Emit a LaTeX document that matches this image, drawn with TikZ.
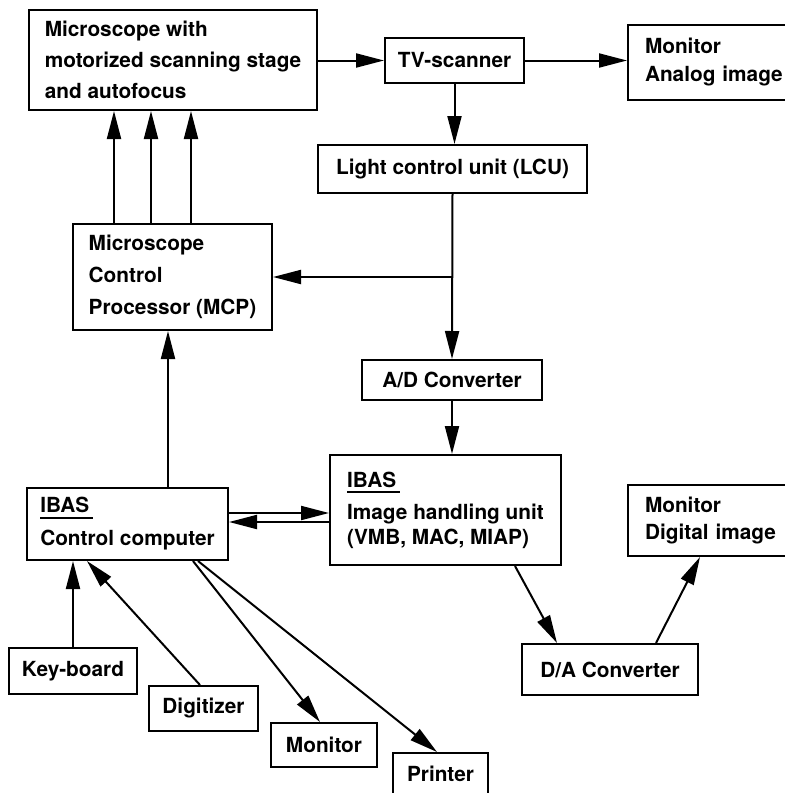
\documentclass[tikz,border=0pt]{standalone}
\usepackage{fontspec}
\setmainfont{TeX Gyre Heros}
\usetikzlibrary{arrows.meta}
\newcommand{\ibas}{\rlap{\rule[-3pt]{26.5pt}{0.9pt}}IBAS}

\begin{document}
\begin{tikzpicture}[x=0.5pt, y=-0.5pt,
    unit/.style={draw, line width=1pt, align=left, inner ysep=0pt,
      font=\fontsize{10.4}{15}\selectfont\bfseries},
    link/.style={line width=1pt, -{Triangle[length=14pt, width=7pt]}}]
  \useasboundingbox (0,0) rectangle (784,793);
  % top row
  \node[unit, minimum width=144pt, minimum height=50pt,
    font=\fontsize{10.4}{15.5}\selectfont\bfseries] (mic) at (173,60)
    {Microscope with\\motorized scanning stage\\and autofocus};
  \node[unit, minimum width=69.5pt, minimum height=22.5pt] (tv) at (454.5,60.5) {TV-scanner};
  \node[unit, text width=72pt, inner xsep=8.5pt, minimum height=37.5pt,
    font=\fontsize{10.4}{14}\selectfont\bfseries] (mona) at (717,62.5)
    {Monitor\\Analog image};
  \node[unit, minimum width=134.5pt, minimum height=24pt] (lcu) at (452.5,169) {Light control unit (LCU)};
  \node[unit, minimum width=99.5pt, minimum height=53pt,
    font=\fontsize{10.4}{16}\selectfont\bfseries] (mcp) at (172.5,277)
    {Microscope\\Control\\Processor (MCP)};
  \node[unit, minimum width=90pt, minimum height=20pt] (ad) at (452,380) {A/D Converter};
  % IBAS units
  \node[unit, minimum width=115.5pt, minimum height=55pt,
    font=\fontsize{10.4}{12.5}\selectfont\bfseries] (ibi) at (445.5,510)
    {\ibas\\[3.5pt]Image handling unit\\(VMB, MAC, MIAP)};
  \node[unit, minimum width=100.5pt, minimum height=36pt,
    font=\fontsize{10.4}{16.5}\selectfont\bfseries] (ibc) at (127.5,524)
    {\ibas\\Control computer};
  \node[unit, text width=72pt, inner xsep=8.5pt, minimum height=35.5pt,
    font=\fontsize{10.4}{13.5}\selectfont\bfseries] (monb) at (717,520.5)
    {Monitor\\Digital image};
  \node[unit, minimum width=88pt, minimum height=25.5pt] (da) at (610,669.5) {D/A Converter};
  % peripherals
  \node[unit, minimum width=64pt, minimum height=23pt] (kb) at (73,671) {Key-board};
  \node[unit, minimum width=54.5pt, minimum height=22.5pt] (dig) at (203.5,708.5) {Digitizer};
  \node[unit, minimum width=53pt, minimum height=22pt] (mon) at (324,745) {Monitor};
  \node[unit, minimum width=47.5pt, minimum height=21pt] (prn) at (440.5,774) {Printer};

  % signal path
  \draw[link] (mic.east |- tv) -- (tv.west);
  \draw[link] (tv.east) -- (tv.east -| mona.west);
  \draw[link] (tv.south) -- (tv.south |- lcu.north);
  \coordinate (split) at (lcu.south |- mcp.east);
  \draw[link] (lcu.south) -- (ad.north);
  \draw[link] (split) -- (mcp.east);
  \draw[link] (ad.south) -- (ad.south |- ibi.north);
  \foreach \dx in {-29.25,-10.75,9.25}
    \draw[link] ([xshift=\dx pt]mcp.north) -- ([xshift=\dx pt]mcp.north |- mic.south);
  \draw[link] ([xshift=20.25pt]ibc.north) -- ([xshift=20.25pt]ibc.north |- mcp.south);
  \draw[link] ([yshift=5.5pt]ibc.east) -- ([yshift=5.5pt]ibc.east -| ibi.west);
  \draw[link] ([yshift=1pt]ibc.east -| ibi.west) -- ([yshift=1pt]ibc.east);
  \draw[link] ([xshift=34.75pt]ibi.south) -- ([xshift=-26.5pt]da.north);
  \draw[link] ([xshift=23pt]da.north) -- ([xshift=-8.5pt]monb.south);
  % peripherals
  \draw[link] (kb.north) -- (kb.north |- ibc.south);
  \draw[link] ([xshift=-1.75pt]dig.north) -- ([xshift=-20.25pt]ibc.south);
  \draw[link] ([xshift=32.75pt]ibc.south) -- ([xshift=-2pt]mon.north);
  \draw[link] ([xshift=35.25pt]ibc.south) -- ([xshift=-1.75pt]prn.north);
\end{tikzpicture}
\end{document}
